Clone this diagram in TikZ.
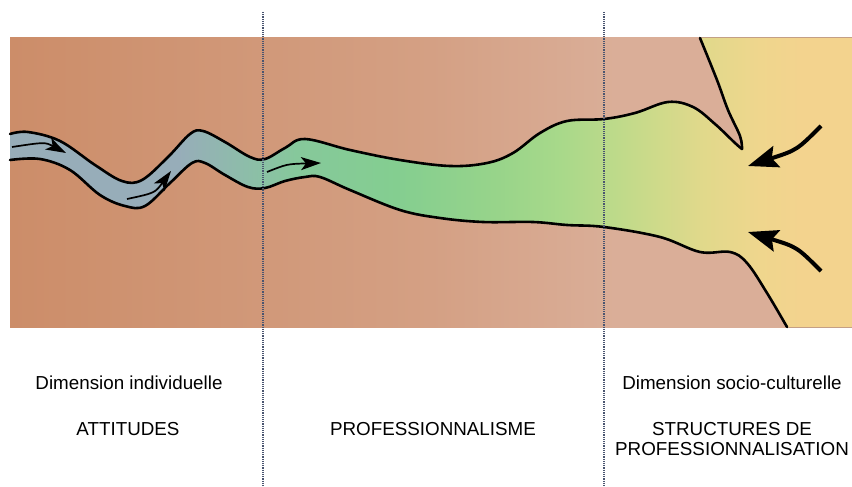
\documentclass[tikz,border=0pt]{standalone}
\usepackage{fontspec}
\setmainfont{Liberation Sans}
\usetikzlibrary{arrows.meta}

\definecolor{bandL}{HTML}{CC8D69}
\definecolor{bandM}{HTML}{D4A084}
\definecolor{bandR}{HTML}{DAAE98}
\definecolor{rivGray}{HTML}{97ADB9}
\definecolor{rivTeal}{HTML}{8DBDA9}
\definecolor{rivGreenA}{HTML}{86C89B}
\definecolor{rivGreenB}{HTML}{84CE90}
\definecolor{rivGreenC}{HTML}{98D48A}
\definecolor{rivGreenD}{HTML}{A8D98A}
\definecolor{rivLime}{HTML}{C8DA8A}
\definecolor{rivStraw}{HTML}{E0D98B}
\definecolor{rivSand}{HTML}{EFD68D}
\definecolor{rivYellow}{HTML}{F3D38E}
\definecolor{sepline}{HTML}{4A5570}

\pgfdeclarehorizontalshading{bandshade}{100bp}{color(0bp)=(bandL); color(25bp)=(bandL);
  color(50bp)=(bandM); color(61bp)=(bandR); color(100bp)=(bandR)}
\pgfdeclarehorizontalshading{rivershade}{100bp}{color(0bp)=(rivGray); color(25bp)=(rivGray);
  color(35bp)=(rivGray); color(39bp)=(rivTeal); color(42bp)=(rivGreenA); color(48bp)=(rivGreenB);
  color(54bp)=(rivGreenC); color(57.7bp)=(rivGreenD); color(62.5bp)=(rivLime); color(66bp)=(rivStraw);
  color(69.5bp)=(rivSand); color(72bp)=(rivYellow); color(100bp)=(rivYellow)}

\begin{document}
\begin{tikzpicture}[
  x=1pt, y=-1pt,
  outline/.style={line width=2.6pt, black, line join=round, line cap=round},
  flow/.style={line width=1.7pt, -{Stealth[length=20pt, width=13pt, inset=5pt]}},
  push/.style={line width=4pt, -{Stealth[length=30pt, width=22pt, inset=5pt]}},
  sep/.style={sepline, line width=1.2pt, densely dotted},
  lbl/.style={font=\fontsize{18.8}{19.5}\selectfont, anchor=base, align=center},
]
\useasboundingbox (0,0) rectangle (852,487);

% Background band
\fill[shading=bandshade] (10,38) rectangle (852,327);

% River and open area
\fill[shading=rivershade]
  plot[smooth, tension=0.6] coordinates {(10,134) (28,132) (60,141) (95,165) (122,181) (142,180)
    (168,157) (190,134) (203,131) (225,142) (250,157) (265,159) (285,148) (305,139) (350,150)
    (400,160) (450,166) (487,163) (513,153) (540,133) (567,121) (604,119) (635,113) (668,102)
    (693,107) (715,124) (735,143) (742,149)}
  -- plot[smooth, tension=0.6] coordinates {(742,149) (740,136) (728,110) (717,80) (700,38)}
  -- (852,38) -- (852,327) -- (787,327)
  -- plot[smooth, tension=0.6] coordinates {(787,327) (767,293) (747,263) (730,252) (700,252)
    (660,237) (604,227) (567,225) (533,222) (483,222) (440,218) (400,210) (350,190) (320,177)
    (305,177) (285,181) (265,188) (248,187) (225,175) (205,163) (192,163) (170,183) (145,206)
    (125,206) (100,195) (70,170) (40,159) (10,160)}
  -- cycle;

% Banks
\draw[outline] plot[smooth, tension=0.6] coordinates {(10,134) (28,132) (60,141) (95,165)
  (122,181) (142,180) (168,157) (190,134) (203,131) (225,142) (250,157) (265,159) (285,148)
  (305,139) (350,150) (400,160) (450,166) (487,163) (513,153) (540,133) (567,121) (604,119)
  (635,113) (668,102) (693,107) (715,124) (735,143) (742,149)};
\draw[outline] plot[smooth, tension=0.6] coordinates {(742,149) (740,136) (728,110) (717,80)
  (700,38)};
\draw[outline] plot[smooth, tension=0.6] coordinates {(10,160) (40,159) (70,170) (100,195)
  (125,206) (145,206) (170,183) (192,163) (205,163) (225,175) (248,187) (265,188) (285,181)
  (305,177) (320,177) (350,190) (400,210) (440,218) (483,222) (533,222) (567,225) (604,227)
  (660,237) (700,252) (730,252) (747,263) (767,293) (787,327)};

% Separators
\coordinate (s1top) at (263,12);
\coordinate (s1bot) at (263,487);
\coordinate (s2top) at (604,12);
\coordinate (s2bot) at (604,487);
\draw[sep] (s1top) -- (s1bot);
\draw[sep] (s2top) -- (s2bot);

% Flow arrows
\coordinate (f1s) at (12,147);
\coordinate (f1e) at (66,153);
\coordinate (f2s) at (127,199);
\coordinate (f2e) at (171,171);
\coordinate (f3s) at (267,172);
\coordinate (f3e) at (321,163);
\draw[flow] (f1s) .. controls (45,142) .. (f1e);
\draw[flow] (f2s) .. controls (155,193) .. (f2e);
\draw[flow] (f3s) .. controls (287,164) .. (f3e);

% Incoming arrows
\coordinate (p1s) at (821,126);
\coordinate (p1e) at (748,166);
\coordinate (p2s) at (821,271);
\coordinate (p2e) at (748,232);
\draw[push] (p1s) .. controls (797,150) .. (p1e);
\draw[push] (p2s) .. controls (797,247) .. (p2e);

% Labels
\node[lbl] (dimind) at (129,389) {Dimension individuelle};
\node[lbl] (attit) at (128,435) {ATTITUDES};
\node[lbl] (profme) at (433,435) {PROFESSIONNALISME};
\node[lbl] (dimsoc) at (732,389) {Dimension socio-culturelle};
\node[lbl] (struct) at (732,455) {STRUCTURES DE\\PROFESSIONNALISATION};
\end{tikzpicture}
\end{document}
